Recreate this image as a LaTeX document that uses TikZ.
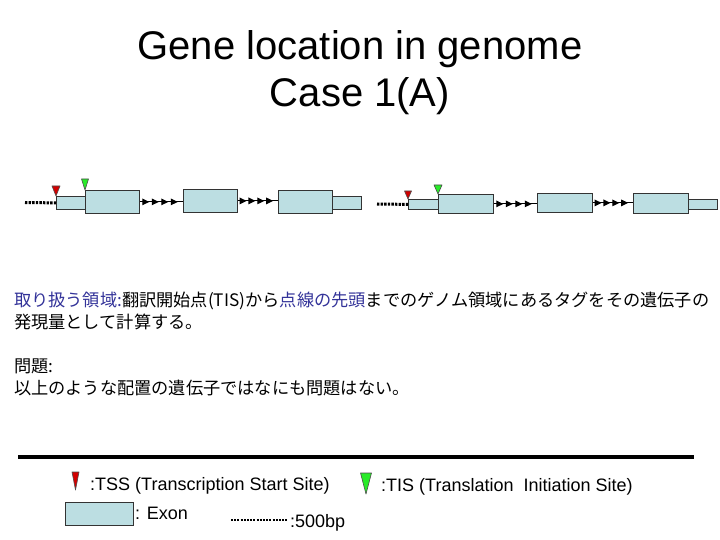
\documentclass[tikz,border=0pt]{standalone}
\usepackage{fontspec}
\setmainfont{Liberation Sans}
\newfontfamily\jafont{Noto Sans CJK JP}
\usetikzlibrary{arrows.meta,decorations.markings}
\definecolor{exonblue}{RGB}{188,222,226}
\definecolor{tssred}{RGB}{210,0,0}
\definecolor{tisgreen}{RGB}{40,235,40}
\definecolor{noteblue}{RGB}{51,51,153}
\tikzset{
  exon/.style={draw=black!80, fill=exonblue, inner sep=0, anchor=north west, line width=0.8pt},
  intron/.style={line width=1.2pt, postaction=decorate,
    decoration={markings, mark=between positions 0.22 and 0.95 step 0.22 with {\arrow{Triangle[length=7pt,width=6.5pt]}}}},
  upstream/.style={line width=3pt, dash pattern=on 2.4pt off 1.2pt},
  tss/.style={fill=tssred, draw=black!70, line width=0.6pt, line join=round},
  tis/.style={fill=tisgreen, draw=black!70, line width=0.6pt, line join=round},
  legend/.style={font=\fontsize{18}{21}\selectfont, anchor=base west, inner sep=0},
  note/.style={font=\jafont\fontsize{17.2}{20}\selectfont, anchor=base west, inner sep=0}
}
\begin{document}
\begin{tikzpicture}[x=1pt, y=-1pt]
	\useasboundingbox (0,0) rectangle (720,540);
	% title
	\node[anchor=base, font=\fontsize{40}{48}\selectfont, inner sep=0] (title) at (360,60) {Gene location in genome};
	\node[anchor=base, font=\fontsize{40}{48}\selectfont, inner sep=0] (case) at (360,107) {Case 1(A)};
	% two genes
	\foreach \nm/\x/\y/\w/\h in {g1u5/56/196/29/13, g1e1/85/190/54/23, g1e2/183/189/54/23, g1e3/278/190/54/23, g1u3/332/196/29/13,
		g2u5/408/199/30/10, g2e1/438/194/55/19, g2e2/537/193/55/19, g2e3/633/193/55/20, g2u3/688/199/29/10}
		\node[exon, minimum width=\w pt, minimum height=\h pt] (\nm) at (\x,\y) {};
	\foreach \a/\b in {g1e1/g1e2, g1e2/g1e3, g2e1/g2e2, g2e2/g2e3}
		\draw[intron] (\a.east) -- (\a.east -| \b.west);
	\coordinate (g1up) at (25,202.5);
	\coordinate (g2up) at (377,204);
	\draw[upstream] (g1up) -- (g1u5.west);
	\draw[upstream] (g2up) -- (g2u5.west);
	\draw[tss] (g1u5.north west) -- ++(-4,-10) -- ++(8,0) -- cycle;
	\draw[tis] (g1e1.north west) -- ++(-3.5,-11) -- ++(7,0) -- cycle;
	\draw[tss] (g2u5.north west) -- ++(-3.5,-8) -- ++(7,0) -- cycle;
	\draw[tis] (g2e1.north west) -- ++(-4,-9) -- ++(8,0) -- cycle;
	% notes
	\node[note] (area1) at (14,306) {\textcolor{noteblue}{取り扱う領域:}翻訳開始点(TIS)から\textcolor{noteblue}{点線の先頭}までのゲノム領域にあるタグをその遺伝子の};
	\node[note] (area2) at (14,328) {発現量として計算する。};
	\node[note] (prob1) at (14,372) {問題:};
	\node[note] (prob2) at (14,394) {以上のような配置の遺伝子ではなにも問題はない。};
	% legend
	\coordinate (rulel) at (18,457);
	\coordinate (ruler) at (694,457);
	\draw[line width=4pt] (rulel) -- (ruler);
	\coordinate (tsskey) at (75.5,490);
	\draw[tss] (tsskey) -- ++(-3.5,-18) -- ++(7,0) -- cycle;
	\node[legend] (tsstext) at (90,490) {:TSS (Transcription Start Site)};
	\coordinate (tiskey) at (366,494);
	\draw[tis] (tiskey) -- ++(-5.5,-21) -- ++(11,0) -- cycle;
	\node[legend] (tistext) at (381,491) {:TIS (Translation~ Initiation Site)};
	\node[exon, minimum width=68pt, minimum height=23pt] (exonkey) at (65,502) {};
	\node[legend] (exontext) at (135,519) {: Exon};
	\coordinate (bpl) at (231,520);
	\coordinate (bpr) at (288,520);
	\draw[line width=2.5pt, dash pattern=on 2pt off 1.2pt] (bpl) -- (bpr);
	\node[legend] (bptext) at (290,527) {:500bp};
\end{tikzpicture}
\end{document}
